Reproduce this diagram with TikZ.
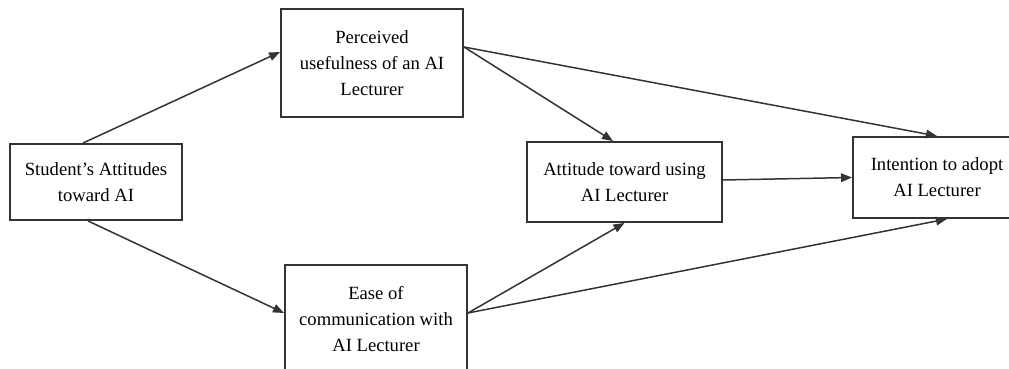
\documentclass[tikz,border=0pt]{standalone}
\usepackage{fontspec}
\setmainfont{Liberation Serif}
\usetikzlibrary{arrows.meta}

\tikzset{
  varbox/.style={draw=black!80, line width=1.1pt, rectangle, align=center,
    inner sep=2pt, font=\fontsize{10.6}{14.8}\selectfont},
  path/.style={->, draw=black!80, line width=0.85pt},
  >={Triangle[length=0.22cm,width=0.17cm]}
}

\begin{document}
\begin{tikzpicture}
    \useasboundingbox (0,0) rectangle (20.18,7.36);
    \clip (0,0) rectangle (20.18,7.36); % Rand
    % Konstrukte
    \node[varbox, minimum width=3.44cm, minimum height=1.52cm] (stud)   at (1.92,3.72)  {Student's Attitudes\\toward AI};
    \node[varbox, minimum width=3.64cm, minimum height=2.16cm] (useful) at (7.44,6.10)  {Perceived\\usefulness of an AI\\Lecturer};
    \node[varbox, minimum width=3.64cm, minimum height=2.16cm] (ease)   at (7.52,0.98)  {Ease of\\communication with\\AI Lecturer};
    \node[varbox, minimum width=3.90cm, minimum height=1.60cm] (att)    at (12.49,3.72) {Attitude toward using\\AI Lecturer};
    \node[varbox, minimum width=3.36cm, minimum height=1.62cm] (intent) at (18.74,3.81) {Intention to adopt\\AI Lecturer};
    % Pfade
    \draw[path] ([xshift=-0.26cm]stud.north) -- ([yshift=0.22cm]useful.west);
    \draw[path] ([xshift=-0.16cm]stud.south) -- ([yshift=0.12cm]ease.west);
    \draw[path] ([yshift=0.32cm]useful.east) -- ([xshift=-0.23cm]att.north);
    \draw[path] ([yshift=0.32cm]useful.east) -- (intent.north);
    \draw[path] ([yshift=0.12cm]ease.east) -- (att.south);
    \draw[path] ([yshift=0.12cm]ease.east) -- ([xshift=0.2cm]intent.south);
    \draw[path] ([yshift=0.04cm]att.east) -- (intent.west);
\end{tikzpicture}
\end{document}
